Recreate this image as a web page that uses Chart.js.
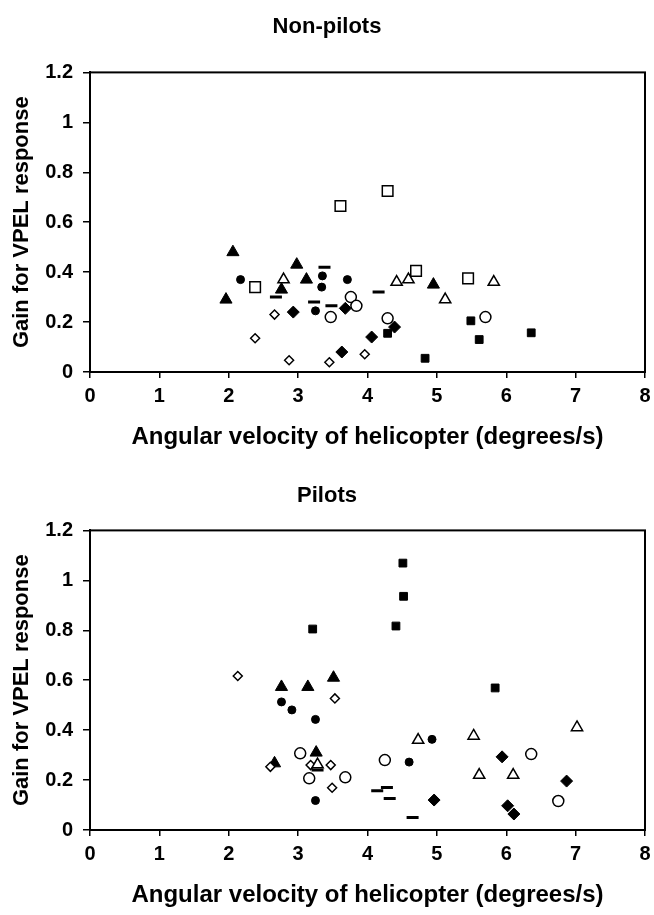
<!DOCTYPE html>
<html>
<head>
<meta charset="utf-8">
<script src="https://cdn.jsdelivr.net/npm/chart.js@4.4.1/dist/chart.umd.min.js"></script>
<style>
    html, body { margin: 0; padding: 0; background: #fff; }
    canvas { display: block; }
</style>
</head>
<body>
<canvas id="nonPilotsChart" width="654" height="457"></canvas>
<canvas id="pilotsChart" width="654" height="458"></canvas>
<script>
// Axis ticks
const xTicks = [0, 1, 2, 3, 4, 5, 6, 7, 8];
const yTicks = [0, 0.2, 0.4, 0.6, 0.8, 1, 1.2];

// Non-pilots: [angular velocity, gain] per marker type
const npFilledTriangle = [[1.96, 0.29], [2.06, 0.48], [2.76, 0.33], [2.98, 0.43], [3.12, 0.37], [4.95, 0.35]];
const npOpenTriangle = [[2.79, 0.37], [4.42, 0.36], [4.59, 0.37], [5.12, 0.29], [5.82, 0.36]];
const npFilledCircle = [[2.17, 0.37], [3.35, 0.385], [3.34, 0.34], [3.71, 0.37], [3.25, 0.245]];
const npOpenCircle = [[3.47, 0.22], [3.76, 0.3], [3.84, 0.265], [4.29, 0.215], [5.7, 0.22]];
const npDash = [[2.68, 0.3], [3.38, 0.42], [3.23, 0.28], [3.48, 0.265], [4.16, 0.32]];
const npOpenSquare = [[2.38, 0.34], [3.61, 0.665], [4.29, 0.725], [4.7, 0.405], [5.45, 0.375]];
const npFilledSquare = [[4.29, 0.155], [4.83, 0.055], [5.49, 0.205], [5.61, 0.13], [6.36, 0.157]];
const npFilledDiamond = [[2.93, 0.24], [3.68, 0.255], [3.63, 0.08], [4.06, 0.14], [4.39, 0.18]];
const npOpenDiamond = [[2.38, 0.135], [2.66, 0.23], [2.87, 0.047], [3.45, 0.039], [3.96, 0.071]];

// Pilots
const pFilledSquare = [[3.21, 0.805], [4.41, 0.817], [4.52, 0.936], [4.51, 1.069], [5.84, 0.569]];
const pFilledTriangle = [[2.66, 0.267], [2.76, 0.573], [3.14, 0.573], [3.51, 0.61], [3.26, 0.31]];
const pOpenTriangle = [[3.28, 0.262], [4.73, 0.36], [5.53, 0.377], [5.61, 0.22], [6.1, 0.22], [7.02, 0.411]];
const pFilledCircle = [[2.76, 0.513], [2.91, 0.481], [3.25, 0.443], [3.25, 0.118], [4.6, 0.272], [4.93, 0.363]];
const pOpenCircle = [[3.03, 0.307], [3.16, 0.207], [3.68, 0.211], [4.25, 0.28], [6.36, 0.304], [6.75, 0.116]];
const pDash = [[3.28, 0.24], [4.14, 0.157], [4.28, 0.17], [4.32, 0.126], [4.65, 0.05]];
const pFilledDiamond = [[4.96, 0.12], [5.94, 0.293], [6.02, 0.097], [6.11, 0.064], [6.87, 0.196]];
const pOpenDiamond = [[2.13, 0.617], [2.6, 0.253], [3.18, 0.26], [3.47, 0.26], [3.53, 0.527], [3.49, 0.169]];

const FONT = "'Liberation Sans', Arial, sans-serif";

// marker styles
const markers = {
    filledTriangle: { pointStyle: 'triangle', pointRadius: 7, pointBackgroundColor: '#000', pointBorderColor: '#000', pointBorderWidth: 1 },
    openTriangle: { pointStyle: 'triangle', pointRadius: 6.5, pointBackgroundColor: '#fff', pointBorderColor: '#000', pointBorderWidth: 1.5 },
    filledCircle: { pointStyle: 'circle', pointRadius: 4, pointBackgroundColor: '#000', pointBorderColor: '#000', pointBorderWidth: 1 },
    openCircle: { pointStyle: 'circle', pointRadius: 5.5, pointBackgroundColor: '#fff', pointBorderColor: '#000', pointBorderWidth: 1.5 },
    dash: { pointStyle: 'line', pointRadius: 6, pointBackgroundColor: '#000', pointBorderColor: '#000', pointBorderWidth: 3 },
    openSquare: { pointStyle: 'rect', pointRadius: 7.5, pointBackgroundColor: '#fff', pointBorderColor: '#000', pointBorderWidth: 1.5 },
    filledSquare: { pointStyle: 'rect', pointRadius: 5.5, pointBackgroundColor: '#000', pointBorderColor: '#000', pointBorderWidth: 1 },
    filledDiamond: { pointStyle: 'rectRot', pointRadius: 6, pointBackgroundColor: '#000', pointBorderColor: '#000', pointBorderWidth: 1 },
    openDiamond: { pointStyle: 'rectRot', pointRadius: 4.5, pointBackgroundColor: '#fff', pointBorderColor: '#000', pointBorderWidth: 1.5 }
};

function makeDataset(points, style) {
    return Object.assign({
        data: points.map(p => ({ x: p[0], y: p[1] })),
        pointHoverRadius: markers[style].pointRadius
    }, markers[style]);
}

// box around the plot area
const frame = {
    id: 'frame',
    afterDraw(chart) {
        const a = chart.chartArea;
        const ctx = chart.ctx;
        ctx.save();
        ctx.strokeStyle = '#000';
        ctx.lineWidth = 2;
        ctx.strokeRect(a.left, a.top, a.right - a.left, a.bottom - a.top);
        ctx.restore();
    }
};

const whiteBg = {
    id: 'whiteBg',
    beforeDraw(chart) {
        const ctx = chart.ctx;
        ctx.save();
        ctx.fillStyle = '#fff';
        ctx.fillRect(0, 0, chart.width, chart.height);
        ctx.restore();
    }
};

function createChart(canvasId, title, datasets, titleTop, titleBottom, bottomHeight) {
    const ctx = document.getElementById(canvasId).getContext('2d');
    return new Chart(ctx, {
        type: 'scatter',
        data: { datasets: datasets },
        options: {
            responsive: false,
            animation: false,
            layout: { padding: 0 },
            plugins: {
                legend: { display: false },
                tooltip: { enabled: false },
                title: {
                    display: true,
                    text: title,
                    color: '#000',
                    font: { family: FONT, size: 22, weight: 'bold' },
                    padding: { top: titleTop, bottom: titleBottom }
                }
            },
            scales: {
                x: {
                    type: 'linear',
                    min: 0,
                    max: 8,
                    afterBuildTicks(scale) { scale.ticks = xTicks.map(v => ({ value: v })); },
                    afterFit(scale) {
                        scale.height = bottomHeight;
                        scale.paddingRight = 7;
                    },
                    border: { display: true, color: '#000', width: 2 },
                    grid: { drawOnChartArea: false, drawTicks: true, tickLength: 6, color: '#000', lineWidth: 1.5 },
                    ticks: { color: '#000', padding: 6, font: { family: FONT, size: 20, weight: 'bold' } },
                    title: {
                        display: true,
                        text: 'Angular velocity of helicopter (degrees/s)',
                        color: '#000',
                        font: { family: FONT, size: 24, weight: 'bold' },
                        padding: { top: 0, bottom: 5 }
                    }
                },
                y: {
                    type: 'linear',
                    min: 0,
                    max: 1.2,
                    afterBuildTicks(scale) { scale.ticks = yTicks.map(v => ({ value: v })); },
                    afterFit(scale) { scale.width = 90; },
                    border: { display: true, color: '#000', width: 2 },
                    grid: { drawOnChartArea: false, drawTicks: true, tickLength: 7, color: '#000', lineWidth: 1.5 },
                    ticks: {
                        color: '#000',
                        padding: 10,
                        font: { family: FONT, size: 20, weight: 'bold' },
                        callback: v => String(v)
                    },
                    title: {
                        display: true,
                        text: 'Gain for VPEL response',
                        color: '#000',
                        font: { family: FONT, size: 22, weight: 'bold' },
                        padding: { top: 9, bottom: 0 }
                    }
                }
            }
        },
        plugins: [whiteBg, frame]
    });
}

createChart('nonPilotsChart', 'Non-pilots', [
    makeDataset(npOpenSquare, 'openSquare'),
    makeDataset(npOpenTriangle, 'openTriangle'),
    makeDataset(npOpenCircle, 'openCircle'),
    makeDataset(npOpenDiamond, 'openDiamond'),
    makeDataset(npFilledTriangle, 'filledTriangle'),
    makeDataset(npFilledCircle, 'filledCircle'),
    makeDataset(npDash, 'dash'),
    makeDataset(npFilledSquare, 'filledSquare'),
    makeDataset(npFilledDiamond, 'filledDiamond')
], 14, 32, 85);

createChart('pilotsChart', 'Pilots', [
    makeDataset(pOpenTriangle, 'openTriangle'),
    makeDataset(pOpenCircle, 'openCircle'),
    makeDataset(pOpenDiamond, 'openDiamond'),
    makeDataset(pFilledSquare, 'filledSquare'),
    makeDataset(pFilledTriangle, 'filledTriangle'),
    makeDataset(pFilledCircle, 'filledCircle'),
    makeDataset(pDash, 'dash'),
    makeDataset(pFilledDiamond, 'filledDiamond')
], 26, 21, 85);
</script>
</body>
</html>
